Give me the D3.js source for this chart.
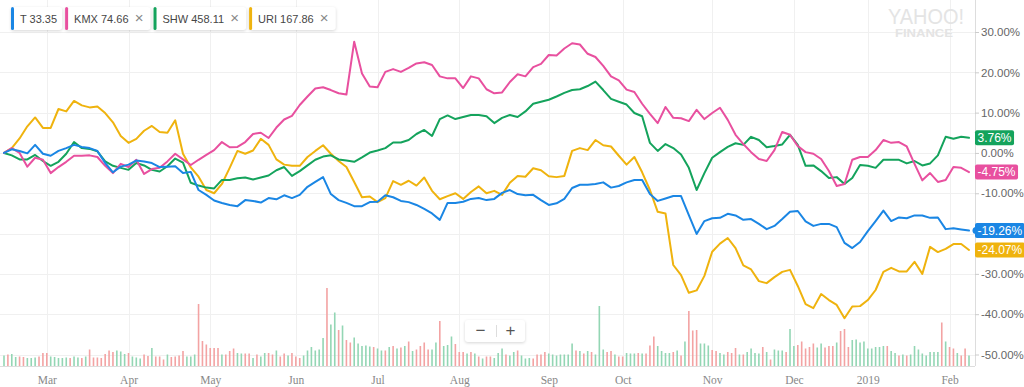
<!DOCTYPE html>
<html lang="en">
<head>
<meta charset="UTF-8">
<title>T vs KMX SHW URI</title>
<script src="https://d3js.org/d3.v7.min.js"></script>
<style>
  html, body { margin: 0; padding: 0; background: #fff; }
  svg { display: block; font-family: "Liberation Sans", Arial, sans-serif; }
  .ylab text { fill: #666; font-size: 11.5px; }
  .ylab line { stroke: #ccc; }
  .ylab path { display: none; }
  .xlab text { fill: #888; font-size: 11.5px; font-family: "Liberation Serif", "Times New Roman", serif; }
  .xlab path, .xlab line { display: none; }
  .pill { fill: #fff; filter: drop-shadow(0 1px 1.5px rgba(0,0,0,0.16)); }
</style>
</head>
<body>
<div id="chart"></div>
<script>
// trading-day index of the first session of each month (day 0 = first point)
const monthDays   = [11, 32, 53, 75, 96, 117, 140, 159, 182, 203, 222, 243];
const monthLabels = ["Mar", "Apr", "May", "Jun", "Jul", "Aug", "Sep", "Oct", "Nov", "Dec", "2019", "Feb"];
const yTicks = [30, 20, 10, 0, -10, -20, -30, -40, -50];

// % change, one reading every 2 trading days
const tVals = [
  0,0.9,0.5,-0.1,2.0,-0.2,-0.7,0.5,1.2,2.0,
  1.5,1.2,0.5,-2.5,-4.8,-3.4,-2.9,-1.9,-2.1,-2.5,
  -3.5,-3.4,-3.3,-5.0,-4.7,-9.2,-10.4,-11.8,-12.4,-12.9,
  -13.2,-11.7,-11.9,-12.3,-11.2,-11.5,-10.5,-11.2,-10.4,-8.4,
  -7.2,-6.0,-10.2,-11.7,-12.4,-13.2,-13.2,-12.2,-12.1,-10.5,
  -11.0,-11.9,-12.2,-12.9,-13.9,-15.0,-16.6,-12.4,-12.4,-12.1,
  -11.4,-11.2,-11.7,-11.4,-9.9,-9.2,-10.2,-10.5,-10.4,-11.7,
  -12.9,-12.5,-11.4,-8.7,-7.9,-7.9,-7.7,-7.3,-8.6,-8.2,
  -7.3,-6.7,-6.7,-10.2,-11.9,-11.3,-10.7,-10.7,-15.4,-20.1,
  -16.9,-16.2,-16.1,-15.1,-15.5,-16.6,-16.4,-17.6,-18.9,-18.1,
  -16.4,-14.6,-14.4,-17.0,-18.1,-17.6,-17.6,-18.4,-22.3,-23.6,
  -22.1,-19.4,-16.9,-14.3,-16.9,-16.0,-16.2,-15.5,-15.5,-16.1,
  -16.0,-18.9,-18.7,-19.0,-19.26
];
const kmxVals = [
  0,1.2,0,-3.4,-1.2,-1.7,-5.0,-3.5,-2.2,-0.7,
  -0.7,-0.6,-1.0,-3.2,-5.0,-2.7,-3.5,-1.7,-5.2,-4.0,
  -3.7,-2.1,-0.2,-1.6,-3.0,-1.7,-0.5,0.7,2.7,1.4,
  1.5,2.7,4.7,5.0,3.7,6.3,8.3,9.2,11.9,14.0,
  16.0,16.3,15.6,14.8,14.5,27.6,19.7,16.5,16.3,20.1,
  20.8,20.1,21.1,22.2,22.5,21.8,19.0,18.5,18.5,16.1,
  19.0,18.5,15.8,14.8,15.0,17.6,19.5,19.0,21.3,22.1,
  24.3,24.2,25.9,27.2,26.9,24.6,23.8,21.6,19.0,18.0,
  15.7,15.1,12.2,9.7,7.4,11.4,8.7,8.6,7.9,10.7,
  8.4,9.9,11.2,8.2,4.5,2.2,0.2,-1.5,-2.0,0.7,
  5.2,4.5,1.7,0.2,-0.2,-1.5,-4.5,-8.2,-7.7,-1.7,
  -1.0,-1.0,0.7,3.2,2.5,2.7,1.6,-2.7,-6.8,-5.0,
  -7.2,-6.7,-3.5,-3.7,-4.75
];
const shwVals = [
  0,-0.6,-1.6,-1.6,-0.5,-2.0,-3.2,-2.2,-0.2,2.7,
  1.2,1.0,0.4,-2.1,-3.2,-3.7,-4.2,-2.5,-3.1,-4.2,
  -4.6,-3.3,-1.4,-2.4,-7.4,-8.1,-8.6,-8.8,-6.7,-6.7,
  -6.3,-6.1,-6.6,-6.1,-5.6,-4.3,-3.5,-5.7,-4.5,-3.1,
  -1.7,-0.9,-0.6,-1.6,-1.9,-2.2,-1.1,0.1,0.6,1.2,
  2.6,2.6,3.2,4.7,5.7,4.2,8.4,9.3,8.4,8.9,
  9.4,9.4,9.1,7.4,8.7,9.4,8.9,10.3,12.2,12.7,
  13.2,14.0,14.9,15.6,15.8,16.6,17.7,15.6,13.4,12.7,
  12.0,9.9,9.1,2.5,0.5,2.2,1.2,-0.4,-3.7,-9.2,
  -5.0,-1.2,0.2,1.5,2.4,2.0,4.0,3.2,1.4,1.7,
  2.1,4.5,2.0,-3.2,-3.1,-4.5,-6.2,-6.0,-7.7,-6.2,
  -3.0,-3.2,-3.7,-1.7,-1.7,-1.7,-2.6,-2.0,-3.1,-2.6,
  -0.6,4.0,3.5,4.0,3.76
];
const uriVals = [
  0,1.2,3.6,6.6,8.8,6.2,6.2,10.9,10.3,12.9,
  11.8,11.3,11.5,9.9,7.6,4.2,2.5,3.5,5.5,6.7,
  5.2,5.0,8.1,-0.2,-3.6,-5.9,-9.2,-10.0,-7.7,-3.7,
  0.5,-0.2,0.6,3.5,2.0,-1.6,-2.9,-3.2,-3.2,-1.0,
  0.5,1.9,-0.2,-2.0,-3.5,-7.2,-11.0,-10.8,-12.2,-11.2,
  -7.0,-7.9,-6.9,-8.1,-6.1,-9.4,-11.5,-10.7,-10.0,-11.4,
  -9.7,-8.3,-10.0,-9.4,-10.4,-7.4,-5.7,-5.9,-3.8,-4.3,
  -5.8,-6.0,-5.7,0.5,1.2,0.7,3.2,1.9,1.6,-0.7,
  -2.9,-1.0,-4.8,-9.2,-14.6,-15.0,-27.8,-30.3,-34.7,-34.1,
  -30.5,-24.5,-22.5,-21.1,-23.6,-27.9,-28.9,-31.8,-32.3,-30.8,
  -29.5,-29.0,-33.0,-37.5,-38.5,-35.0,-36.5,-37.7,-41.0,-38.1,
  -38.0,-36.5,-34.0,-29.5,-28.5,-29.4,-29.4,-27.0,-30.0,-23.3,
  -24.6,-23.8,-22.6,-22.6,-24.07
];

// T daily volume (millions) and up (G) / down (R) day
const volume = [
  21,23,24,18,19,18,16,16,17,19, 26,26,19,18,16,16,17,16,19,17,
  16,19,33,17,17,16,24,31,28,31, 29,24,26,19,17,15,23,20,36,19,
  19,13,23,18,19,21,30,19,19,23, 124,50,43,36,36,36,23,23,30,35,
  26,25,25,25,16,23,19,26,26,23, 31,19,25,21,26,19,16,21,31,38,
  31,33,56,156,83,107,72,81,52,47, 57,45,40,41,39,38,35,31,31,38,
  40,35,37,40,49,30,33,40,47,33, 33,47,90,40,42,59,44,28,28,25,
  28,25,19,15,19,19,16,26,35,23, 21,28,31,21,15,16,15,23,23,28,
  25,23,21,23,23,23,45,31,30,25, 30,28,23,120,33,28,30,23,19,19,
  26,25,25,26,25,25,41,59,40,30, 26,26,28,31,21,49,110,71,72,45,
  45,41,32,30,26,23,28,26,36,23, 23,28,35,26,25,38,28,13,33,31,
  31,28,74,40,42,49,35,38,45,37, 45,37,40,40,47,70,74,38,52,53,
  47,49,35,35,38,38,40,40,30,26, 21,23,21,23,40,33,25,21,28,28,
  28,87,49,38,35,26,21,35,21
];
const volumeDir =
  "GRGGRRGGGR" + "RRGGGGGRGG" + "RGRRRRRRRG" + "GGRGGGRRGR" + "RRGRRRRGGG" +
  "RRRRRRGRRR" + "GGRRGRGGRR" + "GRRGRRRGGG" + "GGG" +
  "RGGRGRRGGG" + "GGRGGRGRGR" + "GRGRRRRGGR" + "GGGRRRGRGR" + "GRRGGGRGGR" +
  "GGGRRRRGGG" + "GGGGRGRGRG" + "GGRRGRRGGG" + "RGRRR" +
  "GGGGRGRGRR" + "RGGGRRGGRR" + "RGRGGGGRGR" + "GGGRGGRRRR" + "RGGRRRGRRR" +
  "GGGGGGGGGR" + "GGRGRGGGGG" + "GGGRGRRGRRG";

const series = [
  { name: "URI", price: "167.86", color: "#efb30e", values: uriVals },
  { name: "SHW", price: "458.11", color: "#14a35c", values: shwVals },
  { name: "KMX", price: "74.66",  color: "#e8509f", values: kmxVals },
  { name: "T",   price: "33.35",  color: "#1a86e4", values: tVals }
];
const legendOrder = ["T", "KMX", "SHW", "URI"];
const dayStep = 2;

const width = 1024, height = 387;
const axisX = 975, baseY = 366;

const svg = d3.select("#chart").append("svg")
  .attr("width", width).attr("height", height);

const x = d3.scaleLinear().domain([0, 248]).range([4, 969]);
const y = d3.scaleLinear().domain([-50, 30]).range([354.5, 32]);
const yVol = d3.scaleLinear().domain([0, 200]).range([baseY, baseY - 100]);

// grid
svg.append("g").selectAll("line").data(yTicks).join("line")
  .attr("x1", 0).attr("x2", axisX)
  .attr("y1", d => Math.round(y(d)) + 0.5).attr("y2", d => Math.round(y(d)) + 0.5)
  .attr("stroke", "#f0f0f0");
svg.append("g").selectAll("line").data(monthDays).join("line")
  .attr("x1", d => Math.round(x(d)) + 0.5).attr("x2", d => Math.round(x(d)) + 0.5)
  .attr("y1", 0).attr("y2", baseY)
  .attr("stroke", "#f0f0f0");

// Yahoo watermark
svg.append("text").attr("x", 888).attr("y", 24)
  .attr("textLength", 76).attr("lengthAdjust", "spacingAndGlyphs")
  .attr("font-size", 22).attr("fill", "#e4e4e4").text("YAHOO!");
svg.append("text").attr("x", 895).attr("y", 37)
  .attr("textLength", 58).attr("lengthAdjust", "spacingAndGlyphs")
  .attr("font-size", 11).attr("font-weight", "bold").attr("fill", "#e4e4e4").text("FINANCE");

// volume
svg.append("g").selectAll("rect").data(volume).join("rect")
  .attr("x", (d, i) => x(i) - 0.8)
  .attr("width", 1.6)
  .attr("y", d => yVol(d))
  .attr("height", d => baseY - yVol(d))
  .attr("fill", (d, i) => volumeDir[i] === "G" ? "#93d6b4" : "#f3a3a3");

// axes lines
svg.append("line").attr("x1", 0).attr("x2", axisX).attr("y1", baseY + 0.5).attr("y2", baseY + 0.5)
  .attr("stroke", "#ddd");
svg.append("line").attr("x1", axisX + 0.5).attr("x2", axisX + 0.5).attr("y1", 0).attr("y2", baseY)
  .attr("stroke", "#ddd");

// lines
const line = d3.line()
  .x((d, i) => x(i * dayStep))
  .y(d => y(d));
svg.append("g").selectAll("path").data(series).join("path")
  .attr("d", d => line(d.values))
  .attr("fill", "none")
  .attr("stroke", d => d.color)
  .attr("stroke-width", 2)
  .attr("stroke-linejoin", "round")
  .attr("stroke-linecap", "round");

// y axis
svg.append("g").attr("class", "ylab")
  .attr("transform", `translate(${axisX},0)`)
  .call(d3.axisRight(y).tickValues(yTicks).tickSize(4).tickPadding(2)
    .tickFormat(d => d.toFixed(2) + "%"));

// month labels
svg.append("g").attr("class", "xlab")
  .attr("transform", `translate(0,${baseY})`)
  .call(d3.axisBottom(x).tickValues(monthDays).tickSize(0).tickPadding(10)
    .tickFormat((d, i) => monthLabels[i]))
  .selectAll("text")
  .attr("fill", (d, i) => monthLabels[i] === "2019" ? "#555" : "#888");

// last-value badges
series.forEach(s => {
  const last = s.values[s.values.length - 1];
  const cy = y(last);
  const g = svg.append("g");
  if (s.name === "T") {
    g.append("circle").attr("cx", axisX + 1).attr("cy", cy).attr("r", 3.5).attr("fill", s.color);
  }
  const txt = last.toFixed(2) + "%";
  const t = g.append("text").attr("x", axisX + 2.5).attr("y", cy + 4.2)
    .attr("font-size", 12).attr("fill", "#fff").text(txt);
  const w = t.node().getComputedTextLength();
  g.insert("rect", "text")
    .attr("x", axisX).attr("y", cy - 7.5)
    .attr("width", w + 5).attr("height", 15).attr("rx", 2)
    .attr("fill", s.color);
});

// legend pills
let px = 11;
legendOrder.forEach(name => {
  const s = series.find(d => d.name === name);
  const g = svg.append("g");
  const bg = g.append("rect").attr("class", "pill").attr("x", px).attr("y", 7).attr("height", 23).attr("rx", 3);
  g.append("rect").attr("x", px).attr("y", 7).attr("width", 3).attr("height", 23).attr("rx", 1.5)
    .attr("fill", s.color);
  const t = g.append("text").attr("x", px + 9).attr("y", 22.5)
    .attr("font-size", 11).attr("fill", "#464646").text(`${s.name} ${s.price}`);
  let end = px + 9 + t.node().getComputedTextLength();
  if (name !== "T") {
    g.append("text").attr("x", end + 10.5).attr("y", 23).attr("text-anchor", "middle")
      .attr("font-size", 15).attr("fill", "#888").text("×");
    end += 22;
  } else {
    end += 5;
  }
  bg.attr("width", end - px);
  px = end + 3;
});

// zoom control
const zc = svg.append("g");
zc.append("rect").attr("class", "pill").attr("x", 465).attr("y", 320).attr("width", 60).attr("height", 22).attr("rx", 3);
zc.append("line").attr("x1", 496.5).attr("x2", 496.5).attr("y1", 325).attr("y2", 337).attr("stroke", "#ddd");
zc.append("text").attr("x", 480.5).attr("y", 336).attr("text-anchor", "middle")
  .attr("font-size", 17).attr("fill", "#555").text("−");
zc.append("text").attr("x", 510.5).attr("y", 336).attr("text-anchor", "middle")
  .attr("font-size", 17).attr("fill", "#555").text("+");
</script>
</body>
</html>
